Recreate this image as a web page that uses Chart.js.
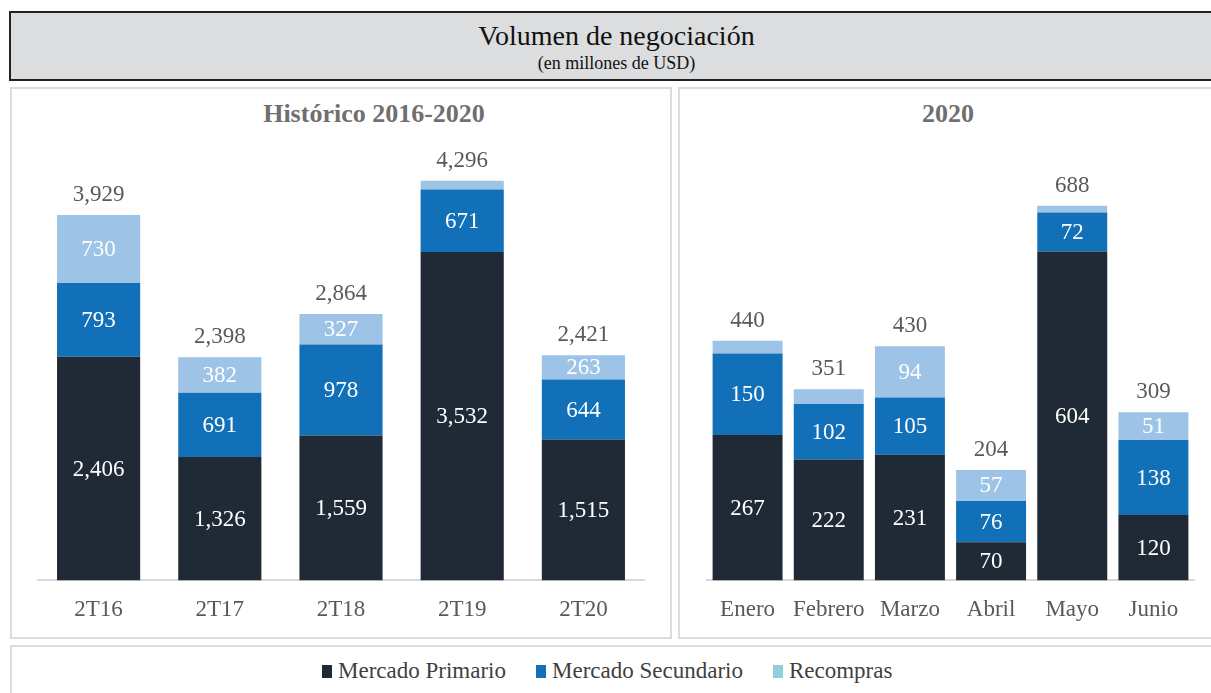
<!DOCTYPE html>
<html>
<head>
<meta charset="utf-8">
<script src="https://cdn.jsdelivr.net/npm/chart.js@4.4.1/dist/chart.umd.min.js"></script>
<style>
body{margin:0;width:1211px;height:693px;overflow:hidden;background:#fff;font-family:"Liberation Serif",serif;position:relative}
.box{position:absolute;box-sizing:border-box}
#head{left:9px;top:11px;width:1215px;height:70px;border:2px solid #222;background:#dcdddf}
#t1{position:absolute;left:0;right:0;top:7px;text-align:center;font-size:28px;color:#111}
#t2{position:absolute;left:0;right:0;top:40px;text-align:center;font-size:18px;color:#111}
.panel{border:2px solid #dcdcdc}
.ptitle{position:absolute;font-size:26px;font-weight:bold;color:#6f6f6f;transform:translateX(-50%);white-space:nowrap}
canvas{position:absolute}
#leg{left:10px;top:645px;width:1215px;height:60px;border:2px solid #dcdcdc}
#legItems{position:absolute;left:310px;top:11px;display:flex;align-items:center;font-size:23px;color:#3f3f3f;white-space:nowrap}
.sq{display:inline-block;width:10px;height:13px;margin-right:6px}
.it{display:flex;align-items:center;margin-right:30px}
</style>
</head>
<body>

<div class="box" id="head"><div id="t1">Volumen de negociación</div><div id="t2">(en millones de USD)</div></div>
<div class="box panel" style="left:10px;top:87px;width:662px;height:552px"></div>
<div class="box panel" style="left:678px;top:87px;width:545px;height:552px"></div>
<div class="ptitle" style="left:374px;top:99px">Histórico 2016-2020</div>
<div class="ptitle" style="left:948px;top:99px">2020</div>
<canvas id="c1" width="657" height="547" style="left:12px;top:89px"></canvas>
<canvas id="c2" width="541" height="547" style="left:680px;top:89px"></canvas>
<div class="box" id="leg"><div id="legItems"></div></div>

<script>
let seriesNames=["Mercado Primario","Mercado Secundario","Recompras"]
let barColors=["#1f2a36","#1170b8","#9dc3e6"]
let legendColors=["#1f2a36","#1170b8","#92cddc"]

let histLabels=["2T16","2T17","2T18","2T19","2T20"]
let histPrimario=[2406,1326,1559,3532,1515]
let histSecundario=[793,691,978,671,644]
let histRecompras=[730,382,327,93,263]
let histTotal=[3929,2398,2864,4296,2421]

let mesLabels=["Enero","Febrero","Marzo","Abril","Mayo","Junio"]
let mesPrimario=[267,222,231,70,604,120]
let mesSecundario=[150,102,105,76,72,138]
let mesRecompras=[23,27,94,57,12,51]
let mesTotal=[440,351,430,204,688,309]

Chart.defaults.font.family="'Liberation Serif', serif"

function fmt(v){
return v.toLocaleString("en-US")
}

let valueLabels={
id:"valueLabels",
afterDatasetsDraw(chart,args,opts){
let ctx=chart.ctx
ctx.save()
ctx.font="23px 'Liberation Serif', serif"
ctx.textAlign="center"
ctx.textBaseline="middle"
chart.data.datasets.forEach(function(ds,di){
let meta=chart.getDatasetMeta(di)
meta.data.forEach(function(bar,i){
if(bar.base-bar.y>20){
ctx.fillStyle="#ffffff"
ctx.fillText(fmt(ds.data[i]),bar.x,(bar.y+bar.base)/2+1)
}
})
})
let last=chart.getDatasetMeta(chart.data.datasets.length-1)
ctx.fillStyle="#595959"
last.data.forEach(function(bar,i){
ctx.fillText(fmt(opts.totals[i]),bar.x,bar.y-20)
})
ctx.restore()
}
}

function makeChart(id,labels,data,totals,max,barPct,padL,padR){
return new Chart(document.getElementById(id),{
type:"bar",
data:{
labels:labels,
datasets:data.map(function(d,k){
return {label:seriesNames[k],data:d,backgroundColor:barColors[k],barPercentage:barPct,categoryPercentage:1}
})
},
options:{
responsive:false,
animation:false,
layout:{padding:{top:45,bottom:-4,left:padL,right:padR}},
plugins:{legend:{display:false},tooltip:{enabled:false},valueLabels:{totals:totals}},
scales:{
x:{stacked:true,grid:{display:false,drawTicks:false},border:{display:true,color:"#d9d9d9",width:2},
ticks:{font:{size:23},color:"#595959",padding:16}},
y:{stacked:true,display:false,min:0,max:max}
}
},
plugins:[valueLabels]
})
}

makeChart("c1",histLabels,[histPrimario,histSecundario,histRecompras],histTotal,4800,0.686,26,25)
makeChart("c2",mesLabels,[mesPrimario,mesSecundario,mesRecompras],mesTotal,820,0.862,27,27)

let leg=document.getElementById("legItems")
seriesNames.forEach(function(n,k){
let it=document.createElement("span")
it.className="it"
it.innerHTML='<span class="sq" style="background:'+legendColors[k]+'"></span>'+n
leg.appendChild(it)
})
</script>
</body>
</html>
